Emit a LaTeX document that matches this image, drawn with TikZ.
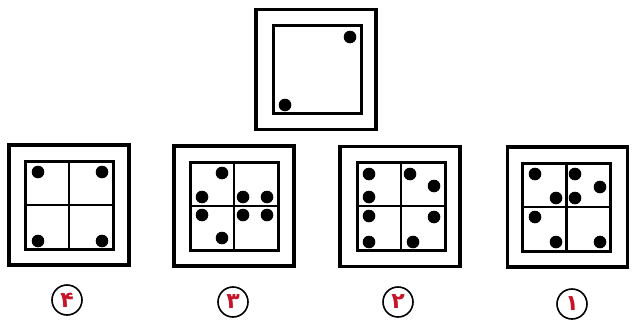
\documentclass[tikz,border=0pt]{standalone}
\usepackage{fontspec}
\newfontfamily\arabicfont[Script=Arabic]{DejaVu Sans}
\definecolor{labred}{RGB}{200,20,40}
\begin{document}
\begin{tikzpicture}[x=1pt,y=-1pt,
  outerbox/.style={draw,line width=3.6pt,minimum width=120pt,minimum height=120pt,inner sep=0pt},
  innerbox/.style={draw,line width=3pt,minimum width=88pt,minimum height=88pt,inner sep=0pt},
  midline/.style={line width=2.5pt},
  dot/.style={fill=black},
  numlabel/.style={draw,circle,line width=1.6pt,minimum size=30pt,inner sep=0pt,text=labred,font=\arabicfont\bfseries\fontsize{22}{22}\selectfont}]
\useasboundingbox (0,0) rectangle (632,324);
% top
\node[outerbox] (to) at (316,69.5) {};
\node[innerbox] (ti) at (317,69.5) {};
\fill[dot] (350,37) circle (6.3);
\fill[dot] (285,105) circle (6.3);
% option 4
\node[outerbox] (o4) at (69,205) {};
\node[innerbox] (i4) at (69,205) {};
\draw[midline] (i4.north) -- (i4.south) (i4.west) -- (i4.east);
\foreach \p in {(38,172),(102,172),(38,241),(102,241)} \fill[dot] \p circle (6.3);
\node[numlabel] (n4) at (67,300) {۴};
% option 3
\node[outerbox] (o3) at (234,206) {};
\node[innerbox] (i3) at (234,206) {};
\draw[midline] (i3.north) -- (i3.south) (i3.west) -- (i3.east);
\foreach \p in {(222,173),(202,197),(243,197),(267,197),(202,215),(243,215),(267,215),(222,238)} \fill[dot] \p circle (6.3);
\node[numlabel] (n3) at (233,302) {۳};
% option 2
\node[outerbox] (o2) at (400,206.5) {};
\node[innerbox] (i2) at (401,206) {};
\draw[midline] (i2.north) -- (i2.south) (i2.west) -- (i2.east);
\foreach \p in {(369,174),(369,197),(410,174),(434,186),(369,216),(369,242),(434,217),(413,242)} \fill[dot] \p circle (6.3);
\node[numlabel] (n2) at (398,302) {۲};
% option 1
\node[outerbox] (o1) at (567.5,207) {};
\node[innerbox] (i1) at (566.5,207) {};
\draw[midline] (i1.north) -- (i1.south) (i1.west) -- (i1.east);
\foreach \p in {(535,174),(556,198),(575,174),(600,187),(575,198),(535,217),(556,242),(600,242)} \fill[dot] \p circle (6.3);
\node[numlabel] (n1) at (572,304) {۱};
\end{tikzpicture}
\end{document}
